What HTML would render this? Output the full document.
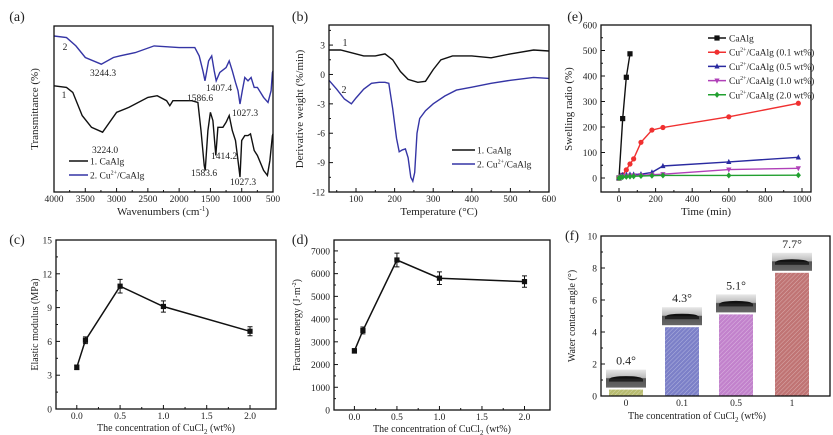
<!DOCTYPE html>
<html><head><meta charset="utf-8"><style>
html,body{margin:0;padding:0;background:#fff}
svg{display:block;font-family:"Liberation Serif",serif}
</style></head><body>
<svg id="fig" width="833" height="435" viewBox="0 0 833 435" xmlns="http://www.w3.org/2000/svg">
<defs>
<pattern id="hatch" width="3" height="3" patternUnits="userSpaceOnUse" patternTransform="rotate(45)"><line x1="0" y1="0" x2="0" y2="3" stroke="#fff" stroke-width="0.8" opacity="0.5"/></pattern>
<linearGradient id="insetg" x1="0" y1="0" x2="0" y2="1"><stop offset="0" stop-color="#e8e8e8"/><stop offset="0.45" stop-color="#bbb"/><stop offset="0.5" stop-color="#555"/><stop offset="1" stop-color="#666"/></linearGradient>
</defs>
</svg>
<script>
// ---------- data ----------
const ftirX2=[4000,3800,3650,3500,3244,3050,2950,2700,2400,2000,1750,1680,1620,1587,1530,1480,1440,1407,1350,1250,1200,1150,1100,1060,1027,990,950,900,850,800,750,650,580,530,510,500];
const ftirY2=[94,93,88,81,77,81,82,84,88,87,87,82,73,67,79,82,73,67,72,75,79,73,66,61,53,61,69,67,69,63,63,57,54,61,72,73];
const ftirX1=[4000,3800,3700,3550,3400,3224,3000,2800,2500,2350,2200,2150,2100,2000,1800,1700,1650,1600,1583,1540,1500,1460,1414,1380,1300,1250,1200,1150,1100,1060,1027,1000,950,900,860,800,750,650,590,550,510,500];
const ftirY1=[64,63,60,46,39,36,48,51,57,58,55,52,55,55,55,54,37,16,13,37,48,43,22,39,39,42,46,37,31,19,9,31,34,34,35,25,22,13,10,19,34,35];
const tgaT1=[30,60,90,120,150,175,195,215,235,260,280,300,320,350,400,450,500,560,600];
const tgaD1=[2.5,2.5,2.2,1.9,1.9,2.1,1.5,0.3,-0.5,-0.8,-0.7,0.5,1.5,1.9,1.9,1.7,2.1,2.5,2.4];
const tgaT2=[30,50,70,88,100,120,140,160,175,185,195,205,212,220,228,235,242,247,252,258,265,280,300,330,360,400,450,500,560,600];
const tgaD2=[-0.6,-1.5,-2.5,-3.0,-2.4,-1.5,-0.9,-0.8,-0.8,-0.9,-3.5,-6.5,-7.9,-7.7,-7.6,-8.5,-10.5,-10.9,-10,-6,-4.5,-3.7,-3.0,-2.2,-1.6,-1.3,-0.9,-0.6,-0.3,-0.4];
const swellT0=[0,20,40,60];
const swellCa=[0,233,395,487];
const swellT=[0,10,20,40,60,80,120,180,240,600,980];
const swell01=[0,5,12,32,55,75,140,188,198,240,293];
const swell05=[0,10,12,13,14,14,15,22,47,63,81];
const swell10=[0,5,7,8,9,10,11,13,15,33,38];
const swell20=[0,3,4,5,6,7,8,9,10,10,11];
const conc=[0,0.1,0.5,1.0,2.0];
const modulus=[3.7,6.1,10.9,9.1,6.9];
const modulusErr=[0.2,0.3,0.6,0.5,0.4];
const fracture=[2600,3500,6600,5800,5650];
const fractureErr=[100,150,300,280,250];
const wcaCats=['0','0.1','0.5','1'];
const wcaVals=[0.4,4.3,5.1,7.7];
const wcaLabels=['0.4°','4.3°','5.1°','7.7°'];

// ---------- helpers ----------
const svg=document.getElementById('fig');
const NS='http://www.w3.org/2000/svg';
function mk(tag,attrs,parent){const e=document.createElementNS(NS,tag);for(const k in attrs)e.setAttribute(k,attrs[k]);(parent||svg).appendChild(e);return e;}
function txt(s,x,y,size,anchor,parent,rot){const t=mk('text',{x:x,y:y,'font-size':size,'text-anchor':anchor||'middle',fill:'#222'},parent);if(rot)t.setAttribute('transform','rotate(-90 '+x+' '+y+')');t.innerHTML=s;return t;}
function lin(d0,d1,r0,r1){return v=>r0+(v-d0)/(d1-d0)*(r1-r0);}
function frame(g,L,T,R,B){mk('rect',{x:L,y:T,width:R-L,height:B-T,fill:'none',stroke:'#111','stroke-width':1.3},g);}
function xticks(g,sx,vals,labels,B,T,minor){vals.forEach((v,i)=>{const x=sx(v);mk('line',{x1:x,y1:B,x2:x,y2:B-4,stroke:'#111'},g);const t=txt(labels[i],x,B+10,9.5,'middle',g);});
 if(minor)minor.forEach(v=>{const x=sx(v);mk('line',{x1:x,y1:B,x2:x,y2:B-2,stroke:'#111'},g);});}
function yticks(g,sy,vals,labels,L,minor){vals.forEach((v,i)=>{const y=sy(v);mk('line',{x1:L,y1:y,x2:L+4,y2:y,stroke:'#111'},g);const t=txt(labels[i],L-4,y+3.5,9.5,'end',g);});
 if(minor)minor.forEach(v=>{const y=sy(v);mk('line',{x1:L,y1:y,x2:L+2,y2:y,stroke:'#111'},g);});}
function path(g,xs,ys,sx,sy,color,w){let d='';xs.forEach((x,i)=>{d+=(i?'L':'M')+sx(x).toFixed(1)+' '+sy(ys[i]).toFixed(1);});return mk('path',{d:d,fill:'none',stroke:color,'stroke-width':w||1.5},g);}
function marker(g,shape,x,y,color){let e;const s=2.6;
 if(shape==='sq')e=mk('rect',{x:x-s,y:y-s,width:2*s,height:2*s,fill:color},g);
 else if(shape==='ci')e=mk('circle',{cx:x,cy:y,r:s,fill:color},g);
 else if(shape==='up')e=mk('polygon',{points:`${x},${y-s-0.5} ${x-s},${y+s-0.5} ${x+s},${y+s-0.5}`,fill:color},g);
 else if(shape==='dn')e=mk('polygon',{points:`${x},${y+s+0.5} ${x-s},${y-s+0.5} ${x+s},${y-s+0.5}`,fill:color},g);
 else e=mk('polygon',{points:`${x},${y-s-0.5} ${x+s},${y} ${x},${y+s+0.5} ${x-s},${y}`,fill:color},g);
 return e;}
function range(a,b,s){const r=[];for(let v=a;v<=b+1e-9;v+=s)r.push(+v.toFixed(6));return r;}

// ---------- panel (a) FTIR ----------
{const g=mk('g',{});
 const L=54,T=26,R=273,B=192;const sx=lin(4000,500,L,R),sy=lin(0,100,B,T);
 const c1=path(g,ftirX1,ftirY1,sx,sy,'#111',1.4);
 const c2=path(g,ftirX2,ftirY2,sx,sy,'#3535a5',1.4);
 frame(g,L,T,R,B);
 xticks(g,sx,range(500,4000,500),range(500,4000,500).map(String),B,T,range(750,3750,500));
 [['2',65,50],['1',64,98],['3244.3',103,76],['3224.0',105,153],['1586.6',200,101],['1407.4',219,91],['1027.3',245,116],['1414.2',224,159],['1583.6',204,176],['1027.3',243,185]].forEach(a=>{const t=txt(a[0],a[1],a[2],9.5,'middle',g);});
 const lg=mk('g',{},g);
 mk('line',{x1:69,y1:161,x2:88,y2:161,stroke:'#111','stroke-width':1.6},lg);txt('1. CaAlg',90,164.5,9.5,'start',lg);
 mk('line',{x1:69,y1:175,x2:88,y2:175,stroke:'#3535a5','stroke-width':1.6},lg);txt('2. Cu<tspan font-size="6" dy="-4">2+</tspan><tspan dy="4">/CaAlg</tspan>',90,178.5,9.5,'start',lg);
 const xl=txt('Wavenumbers (cm<tspan font-size="7" dy="-4">-1</tspan><tspan dy="4">)</tspan>',163,215,11,'middle',g);
 const yl=txt('Transmittance (%)',38,109,11,'middle',g,true);
 const pl=txt('(a)',17,21,14,'middle',g);}

// ---------- panel (b) DTG ----------
{const g=mk('g',{});
 const L=329,T=25,R=549,B=192;const sx=lin(30,600,L,R),sy=lin(-12,5.05,B,T);
 const c1=path(g,tgaT1,tgaD1,sx,sy,'#111',1.4);
 const c2=path(g,tgaT2,tgaD2,sx,sy,'#3535a5',1.4);
 frame(g,L,T,R,B);
 xticks(g,sx,range(100,600,100),range(100,600,100).map(String),B,T,range(50,550,100));
 yticks(g,sy,[3,0,-3,-6,-9,-12],['3','0','-3','-6','-9','-12'],L,[4.5,1.5,-1.5,-4.5,-7.5,-10.5]);
 txt('1',345,46,10,'middle',g);txt('2',344,93,10,'middle',g);
 const lg=mk('g',{},g);
 mk('line',{x1:452,y1:150,x2:475,y2:150,stroke:'#111','stroke-width':1.6},lg);txt('1. CaAlg',477,153.5,9.5,'start',lg);
 mk('line',{x1:452,y1:164,x2:475,y2:164,stroke:'#3535a5','stroke-width':1.6},lg);txt('2. Cu<tspan font-size="6" dy="-4">2+</tspan><tspan dy="4">/CaAlg</tspan>',477,167.5,9.5,'start',lg);
 const xl=txt('Temperature (°C)',439,215,11,'middle',g);
 const yl=txt('Derivative weight (%/min)',303,109,11,'middle',g,true);
 const pl=txt('(b)',300,21,14,'middle',g);}

// ---------- panel (e) swelling ----------
{const g=mk('g',{});
 const L=601,T=25,R=811,B=192;const sx=lin(0,1000,619,802),sy=lin(0,600,178,25);
 frame(g,L,T,R,B);
 xticks(g,sx,range(0,1000,200),range(0,1000,200).map(String),B,T,range(100,900,200));
 yticks(g,sy,range(0,600,100),range(0,600,100).map(String),L,range(50,550,100));
 const series=[[swellT0,swellCa,'#111','sq','CaAlg'],[swellT,swell01,'#f03030','ci','0.1 wt%'],[swellT,swell05,'#2a2aa0','up','0.5 wt%'],[swellT,swell10,'#b040b8','dn','1.0 wt%'],[swellT,swell20,'#22a030','di','2.0 wt%']];
 series.forEach((s,k)=>{const sg=mk('g',{},g);
  path(sg,s[0],s[1],sx,sy,s[2],1.4);s[0].forEach((t,i)=>{const m=marker(sg,s[3],sx(t),sy(s[1][i]),s[2]);});
  const ly=38+k*14.2;const lg=mk('g',{},g);
  mk('line',{x1:708,y1:ly,x2:726,y2:ly,stroke:s[2],'stroke-width':1.5},lg);marker(lg,s[3],717,ly,s[2]);
  txt(k?'Cu<tspan font-size="6" dy="-4">2+</tspan><tspan dy="4">/CaAlg ('+s[4]+')</tspan>':'CaAlg',729,ly+3.5,9.5,'start',lg);});
 const xl=txt('Time (min)',706,215,11,'middle',g);
 const yl=txt('Swelling radio (%)',572,109,11,'middle',g,true);
 const pl=txt('(e)',575,21,14,'middle',g);}

// ---------- panels (c),(d) ----------
function errPanel(name,L,T,R,B,xd,yd,vals,errs,yt,ymin,ylab,ylx,plabel,plx,ply){
 const g=mk('g',{});
 const sx=lin(xd[0],xd[1],L,R),sy=lin(yd[0],yd[1],B,T);
 frame(g,L,T,R,B);
 xticks(g,sx,range(0,2,0.5),['0.0','0.5','1.0','1.5','2.0'],B,T,range(0.25,1.75,0.5));
 yticks(g,sy,yt,yt.map(String),L,ymin);
 path(g,conc,vals,sx,sy,'#111',1.5);
 conc.forEach((c,i)=>{const x=sx(c),y1=sy(vals[i]+errs[i]),y2=sy(vals[i]-errs[i]);
  const eb=mk('path',{d:`M${x-2.5} ${y1}H${x+2.5}M${x} ${y1}V${y2}M${x-2.5} ${y2}H${x+2.5}`,stroke:'#111',fill:'none','stroke-width':1},g);
  const m=marker(g,'sq',x,sy(vals[i]),'#111');});
 const xl=txt('The concentration of CuCl<tspan font-size="7" dy="3">2</tspan><tspan dy="-3"> (wt%)</tspan>',(L+R)/2,B+22,10,'middle',g);
 const yl=txt(ylab,ylx,(T+B)/2,10,'middle',g,true);
 const pl=txt(plabel,plx,ply,14,'middle',g);}
errPanel('panel-c-modulus',56,240,276,409,[-0.24,2.3],[0,15],modulus,modulusErr,[0,3,6,9,12,15],[1.5,4.5,7.5,10.5,13.5],'Elastic modulus (MPa)',38,'(c)',17,244);
errPanel('panel-d-fracture',334,240,550,410,[-0.24,2.3],[0,7480],fracture,fractureErr,[0,1000,2000,3000,4000,5000,6000,7000],[500,1500,2500,3500,4500,5500,6500],'Fracture energy (J·m<tspan font-size="6" dy="-4">-2</tspan><tspan dy="4">)</tspan>',300,'(d)',300,244);

// ---------- panel (f) contact angle ----------
{const g=mk('g',{});
 const L=601,T=236,R=830,B=396;const sy=lin(0,10,B,T);
 const centers=[626,682,736,792];const colors=['#b8bc70','#7c80c8','#c282cc','#c07474'];
 wcaVals.forEach((v,i)=>{const x=centers[i],w=34,y=sy(v);
  const b=mk('rect',{x:x-w/2,y:y,width:w,height:B-y,fill:colors[i]},g);
  mk('rect',{x:x-w/2,y:y,width:w,height:B-y,fill:'url(#hatch)'},g);
  const ig=mk('g',{},g);
  const iy=y-20;mk('rect',{x:x-20,y:iy,width:40,height:18,fill:'url(#insetg)'},ig);
  mk('ellipse',{cx:x,cy:iy+9,rx:16,ry:2.5,fill:'#111'},ig);mk('rect',{x:x-17,y:iy+9,width:34,height:3,fill:'#222'},ig);
  const t=txt(wcaLabels[i],x,iy-5,12,'middle',g);
  const tl=txt(wcaCats[i],x,B+10,9.5,'middle',g);});
 frame(g,L,T,R,B);
 yticks(g,sy,range(0,10,2),range(0,10,2).map(String),L,range(1,9,2));
 const xl=txt('The concentration of CuCl<tspan font-size="7" dy="3">2</tspan><tspan dy="-3"> (wt%)</tspan>',697,419,10,'middle',g);
 const yl=txt('Water contact angle (°)',575,316,10,'middle',g,true);
 const pl=txt('(f)',572,240,14,'middle',g);}
</script>
</body></html>
